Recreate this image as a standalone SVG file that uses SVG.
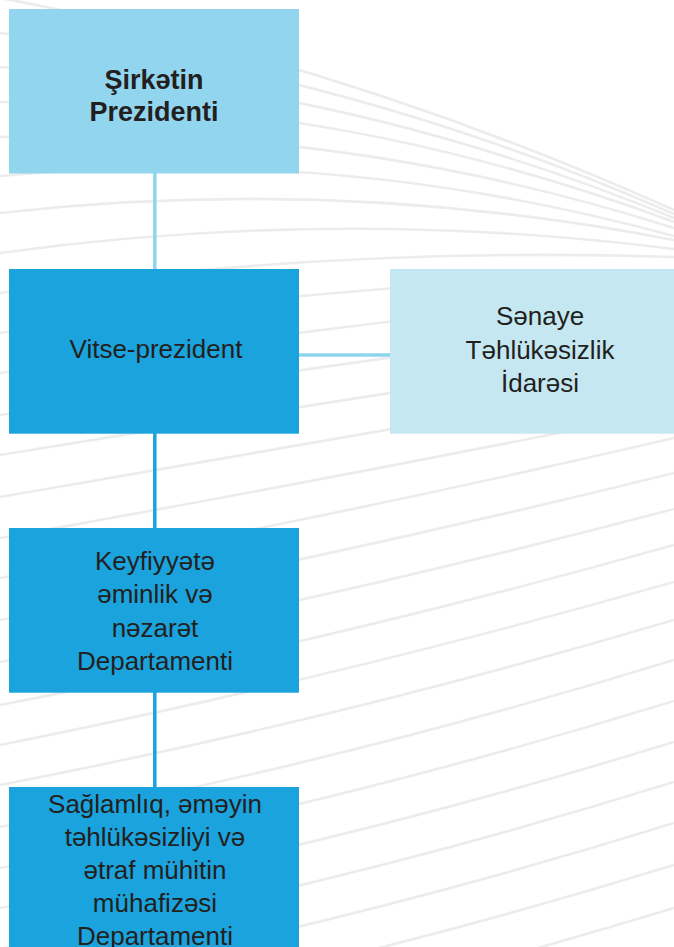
<svg xmlns="http://www.w3.org/2000/svg" width="674" height="947" viewBox="0 0 674 947">
<style>
.bg{fill:none;stroke:#ebeceb;stroke-width:2.6}
.lt{fill:#91d5ef}
.dk{fill:#1aa3dc}
.pl{fill:#c4e7f1}
.t{font-family:"Liberation Sans",Arial,Helvetica,sans-serif;font-size:26px;fill:#231f20;text-anchor:middle}
.b{font-weight:bold;font-size:27px}
.c1{stroke:#8fd4ef;stroke-width:3.5;fill:none}
.c2{stroke:#1aa3dc;stroke-width:3.5;fill:none}
</style>
<rect width="674" height="947" fill="#ffffff"/>
<g id="background">
<path class="bg" d="M0,-2 Q337,59.4 674,210"/>
<path class="bg" d="M0,33 Q337,66.2 674,214"/>
<path class="bg" d="M0,67 Q337,79.7 674,218"/>
<path class="bg" d="M0,102 Q337,96.7 674,222"/>
<path class="bg" d="M0,137 Q337,120.9 674,228"/>
<path class="bg" d="M0,176 Q337,144 674,236"/>
<path class="bg" d="M0,213 Q337,174.8 674,240"/>
<path class="bg" d="M0,253 Q337,206.6 674,249"/>
<path class="bg" d="M0,293 Q337,245.9 674,257"/>
<path class="bg" d="M0,333 Q337,282 674,274"/>
<path class="bg" d="M0,373 Q337,324 674,291"/>
<path class="bg" d="M0,415 Q337,362 674,321"/>
<path class="bg" d="M0,455 Q337,400 674,350"/>
<path class="bg" d="M0,497 Q337,437 674,380"/>
<path class="bg" d="M0,538 Q337,478 674,410"/>
<path class="bg" d="M0,578 Q337,516.6 674,438"/>
<path class="bg" d="M0,620 Q337,556.5 674,473"/>
<path class="bg" d="M0,662 Q337,598 674,509"/>
<path class="bg" d="M0,705 Q337,640 674,545"/>
<path class="bg" d="M0,745 Q337,678 674,582"/>
<path class="bg" d="M0,785 Q337,720 674,620"/>
<path class="bg" d="M0,827 Q337,764 674,660"/>
<path class="bg" d="M0,868 Q337,805 674,701"/>
<path class="bg" d="M0,908 Q337,846 674,742"/>
<path class="bg" d="M0,949 Q337,887 674,782"/>
<path class="bg" d="M0,990 Q337,928 674,823"/>
<path class="bg" d="M0,1031 Q337,969 674,865"/>
<path class="bg" d="M0,1073 Q337,1011 674,908"/>
<path class="bg" d="M0,1115 Q337,1053 674,950"/>
</g>
<g id="connectors">
<line class="c1" x1="154.8" y1="173" x2="154.8" y2="270"/>
<line class="c1" x1="299" y1="355" x2="391" y2="355"/>
<line class="c2" x1="154.8" y1="433" x2="154.8" y2="529"/>
<line class="c2" x1="154.8" y1="692" x2="154.8" y2="788"/>
</g>
<g id="node-prezident">
<rect class="lt" x="9" y="9" width="290" height="164.5"/>
<text class="t b" x="154" y="89">Şirkətin</text>
<text class="t b" x="154" y="121">Prezidenti</text>
</g>
<g id="node-vitse">
<rect class="dk" x="9" y="269" width="290" height="164.7"/>
<text class="t" x="156" y="358">Vitse-prezident</text>
</g>
<g id="node-senaye">
<rect class="pl" x="390" y="269" width="300" height="164.7"/>
<text class="t" x="540" y="325">Sənaye</text>
<text class="t" x="540" y="359">Təhlükəsizlik</text>
<text class="t" x="540" y="392">İdarəsi</text>
</g>
<g id="node-keyfiyyet">
<rect class="dk" x="9" y="528" width="290" height="164.7"/>
<text class="t" x="155" y="570">Keyfiyyətə</text>
<text class="t" x="155" y="603">əminlik və</text>
<text class="t" x="155" y="637">nəzarət</text>
<text class="t" x="155" y="670">Departamenti</text>
</g>
<g id="node-saglamliq">
<rect class="dk" x="9" y="787" width="290" height="170"/>
<text class="t" x="155" y="813">Sağlamlıq, əməyin</text>
<text class="t" x="155" y="846">təhlükəsizliyi və</text>
<text class="t" x="155" y="879">ətraf mühitin</text>
<text class="t" x="155" y="912">mühafizəsi</text>
<text class="t" x="155" y="945">Departamenti</text>
</g>
</svg>
